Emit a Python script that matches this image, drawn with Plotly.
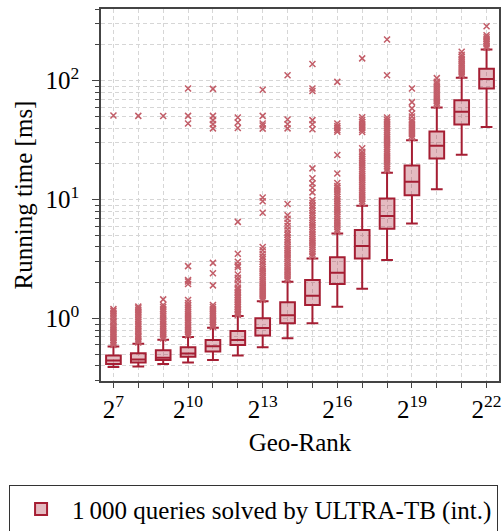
import plotly.graph_objects as go

# Geo-rank exponents (box positions are 2^e)
exponents = list(range(7, 23))

# Box statistics (ms)
q1 = [0.415, 0.427, 0.448, 0.478, 0.528, 0.599, 0.722, 0.911, 1.30, 1.95, 3.2, 5.68, 10.9, 22.2, 42.9, 86.0]
median = [0.445, 0.452, 0.4685, 0.508, 0.584, 0.660, 0.832, 1.064, 1.555, 2.43, 4.07, 7.27, 14.1, 28.3, 54.7, 103.5]
q3 = [0.489, 0.510, 0.541, 0.573, 0.660, 0.785, 1.004, 1.37, 2.11, 3.27, 5.54, 10.2, 19.4, 37.4, 68.6, 125.7]
lower_whisker = [0.391, 0.395, 0.415, 0.428, 0.448, 0.489, 0.573, 0.682, 0.911, 1.256, 1.78, 3.10, 6.31, 12.25, 23.8, 40.7]
upper_whisker = [0.582, 0.613, 0.663, 0.699, 0.835, 1.05, 1.40, 2.04, 3.2, 5.2, 8.9, 16.8, 31.6, 59.5, 106.0, 183.0]

# Outliers per box (ms)
outliers = [
    [0.60, 0.62, 0.64, 0.66, 0.69, 0.71, 0.74, 0.77, 0.80, 0.83, 0.86, 0.89, 0.93, 0.96, 1.00, 1.04, 1.08, 1.12, 1.16, 1.20, 51.0],
    [0.63, 0.65, 0.67, 0.70, 0.72, 0.75, 0.78, 0.81, 0.84, 0.87, 0.90, 0.94, 0.98, 1.02, 1.06, 1.10, 1.14, 1.18, 1.22, 1.26, 50.6],
    [0.68, 0.70, 0.73, 0.75, 0.78, 0.81, 0.84, 0.87, 0.90, 0.94, 0.98, 1.02, 1.06, 1.10, 1.15, 1.20, 1.25, 1.30, 1.45, 50.5],
    [0.72, 0.74, 0.77, 0.80, 0.83, 0.86, 0.89, 0.93, 0.97, 1.01, 1.05, 1.09, 1.14, 1.19, 1.24, 1.29, 1.35, 1.43, 1.95, 2.05, 2.11, 2.76, 43.7, 50.6, 86.0],
    [0.85, 0.88, 0.91, 0.94, 0.97, 1.00, 1.04, 1.08, 1.12, 1.16, 1.20, 1.25, 1.30, 1.90, 2.40, 2.94, 39.7, 43.1, 46.6, 50.6, 85.3],
    [1.07, 1.10, 1.13, 1.17, 1.21, 1.25, 1.29, 1.33, 1.38, 1.43, 1.48, 1.53, 1.58, 1.63, 1.68, 1.75, 1.82, 1.95, 2.1, 2.2, 2.35, 2.7, 2.8, 3.0, 3.5, 6.5, 40.0, 44.5, 49.0],
    [1.44, 1.49, 1.55, 1.61, 1.67, 1.74, 1.81, 1.88, 1.96, 2.04, 2.12, 2.21, 2.30, 2.40, 2.50, 2.61, 2.73, 2.86, 3.0, 3.15, 3.3, 3.5, 3.75, 4.0, 7.75, 9.7, 10.4, 39.5, 42.0, 43.6, 50.6, 84.0],
    [2.1, 2.18, 2.27, 2.36, 2.46, 2.56, 2.67, 2.78, 2.9, 3.02, 3.15, 3.28, 3.42, 3.56, 3.71, 3.87, 4.03, 4.2, 4.4, 4.6, 4.8, 5.05, 5.3, 5.6, 6.0, 6.4, 6.9, 7.4, 9.2, 39.7, 43.0, 47.2, 111.0],
    [3.35, 3.5, 3.65, 3.8, 3.97, 4.14, 4.32, 4.5, 4.7, 4.9, 5.1, 5.35, 5.6, 5.85, 6.1, 6.4, 6.7, 7.0, 7.35, 7.7, 8.1, 8.5, 8.9, 9.4, 9.9, 11.5, 12.6, 13.7, 15.1, 18.3, 39.0, 43.0, 46.6, 82.0, 86.0, 138.0],
    [5.4, 5.6, 5.85, 6.1, 6.35, 6.6, 6.9, 7.2, 7.5, 7.85, 8.2, 8.55, 8.9, 9.3, 9.7, 10.1, 10.6, 11.1, 11.6, 12.1, 12.6, 13.0, 13.8, 16.6, 23.7, 37.2, 38.5, 40.0, 41.5, 43.7, 97.7],
    [9.3, 9.7, 10.1, 10.5, 10.95, 11.4, 11.9, 12.4, 12.9, 13.4, 14.0, 14.6, 15.2, 15.8, 16.5, 17.2, 17.9, 18.7, 19.5, 20.3, 21.2, 22.1, 23.0, 24.0, 25.2, 27.0, 37.0, 38.5, 40.0, 41.5, 43.0, 45.0, 47.0, 49.3, 154.0],
    [17.5, 18.2, 19.0, 19.8, 20.6, 21.5, 22.4, 23.3, 24.3, 25.3, 26.4, 27.5, 28.6, 29.8, 31.0, 32.3, 33.7, 35.1, 36.6, 38.1, 39.7, 41.4, 43.1, 44.9, 46.8, 49.0, 111.0, 222.0],
    [33.0, 34.3, 35.6, 37.0, 38.4, 39.9, 41.4, 43.0, 44.7, 46.6, 50.0, 53.0, 58.5, 66.0, 86.0],
    [62.0, 64.5, 67.0, 69.6, 72.3, 75.1, 78.0, 81.0, 84.2, 87.5, 91.0, 94.5, 98.0, 105.0],
    [110.0, 114.0, 118.0, 122.5, 127.0, 132.0, 137.0, 142.0, 147.5, 153.0, 159.0, 165.0, 175.0],
    [189.0, 195.0, 202.0, 209.0, 216.0, 224.0, 232.0, 241.0, 287.0],
]

x_tick_exponents = [7, 10, 13, 16, 19, 22]
y_tick_values = [1, 10, 100]
y_tick_labels = ["10<sup>0</sup>", "10<sup>1</sup>", "10<sup>2</sup>"]
legend_label = "1\u2009000 queries solved by ULTRA-TB (int.)"

LINE = "#a51e33"
FILL = "rgba(165,30,51,0.3)"
OUT = "#c25d68"
GRID = "#d6d6d6"
AX = "#444444"
FONT = "Liberation Serif"

out_x = [e for e, vals in zip(exponents, outliers) for _ in vals]
out_y = [v for vals in outliers for v in vals]

fig = go.Figure()
fig.add_trace(go.Scatter(
    x=out_x, y=out_y, mode="markers", showlegend=False, hoverinfo="skip",
    marker=dict(symbol="x-thin", size=6, color=OUT, line=dict(width=1.5, color=OUT)),
))
fig.add_trace(go.Box(
    x=exponents, q1=q1, median=median, q3=q3,
    lowerfence=lower_whisker, upperfence=upper_whisker,
    orientation="v", boxpoints=False, width=0.59, whiskerwidth=0.8,
    line=dict(color=LINE, width=2), fillcolor=FILL,
    name=legend_label, showlegend=True,
))

minor_vals = [m * 10 ** k for k in (-1, 0, 1, 2) for m in range(2, 10)]

fig.update_layout(
    width=502, height=531,
    margin=dict(l=101, r=3, t=9, b=150, autoexpand=False),
    paper_bgcolor="white", plot_bgcolor="white",
    font=dict(family=FONT, size=25, color="black"),
    showlegend=True,
    legend=dict(
        orientation="h", x=-0.231, y=-0.28, xanchor="left", yanchor="top",
        bordercolor="#333333", borderwidth=1, font=dict(size=25, family=FONT),
        bgcolor="white", itemwidth=52,
    ),
    xaxis=dict(
        range=[6.5, 22.5], tickmode="array", tickvals=exponents,
        ticktext=[f"2<sup>{e}</sup>" if e in x_tick_exponents else "" for e in exponents],
        ticks="outside", ticklen=5, tickcolor=AX, tickwidth=1,
        showgrid=True, gridcolor=GRID, griddash="4px,3px", gridwidth=1,
        showline=True, linecolor=AX, linewidth=1.5, mirror=True, zeroline=False,
        title=dict(text="Geo-Rank", standoff=12, font=dict(size=25, family=FONT)),
        tickfont=dict(size=25, family=FONT), automargin=False,
    ),
    yaxis=dict(
        type="log", range=[-0.525, 2.6025], tickmode="array",
        tickvals=y_tick_values, ticktext=y_tick_labels,
        ticks="outside", ticklen=7, tickcolor=AX, tickwidth=1,
        showgrid=True, gridcolor=GRID, griddash="4px,3px", gridwidth=1,
        minor=dict(tickmode="array", tickvals=minor_vals, ticks="outside", ticklen=4,
                   tickcolor=AX, showgrid=True, gridcolor=GRID, griddash="4px,3px"),
        showline=True, linecolor=AX, linewidth=1.5, mirror=True, zeroline=False,
        title=dict(text="Running time [ms]", standoff=6, font=dict(size=25, family=FONT)),
        tickfont=dict(size=25, family=FONT), automargin=False,
        ticklabelstandoff=8,
    ),
)

fig.write_html(
    "out.html",
    config={"displayModeBar": False},
    post_script="document.body.style.margin='0';document.body.style.overflow='hidden';",
)
